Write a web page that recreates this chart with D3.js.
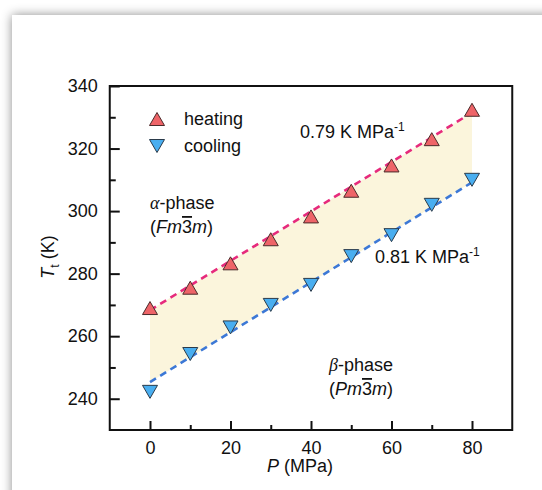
<!DOCTYPE html>
<html>
<head>
<meta charset="utf-8">
<script src="https://cdn.jsdelivr.net/npm/d3@7"></script>
<style>
  body { margin: 0; background: #fff; width: 542px; height: 490px; overflow: hidden; position: relative; }
  #card { position: absolute; left: 12px; top: 15px; width: 560px; height: 500px; background: #fff;
          box-shadow: 0 0 10px rgba(0,0,0,0.45); }
  #chart { position: absolute; left: 0; top: 0; }
  text { font-family: "Liberation Sans", Arial, sans-serif; fill: #111; }
</style>
</head>
<body>
<div id="card"></div>
<div id="chart"></div>
<script>
// chart size and frame
const width = 542;
const height = 490;
const margin = {left: 110, right: 30, top: 86, bottom: 60};

// data
const pressure = [0, 10, 20, 30, 40, 50, 60, 70, 80];
const heatingT = [269, 275.5, 283.3, 291, 298.3, 306.5, 314.6, 323, 332.4];
const coolingT = [242.2, 254.3, 262.8, 270, 276.4, 285.6, 292.3, 302, 310];
// dashed fit lines: [P, T] end points
const heatingFit = [[0, 268.3], [80, 331.5]];
const coolingFit = [[0, 245.3], [80, 309.2]];
const xTicks = [0, 20, 40, 60, 80];
const xMinor = [10, 30, 50, 70];
const yTicks = [240, 260, 280, 300, 320, 340];
const yMinor = [250, 270, 290, 310, 330];

const svg = d3.select("#chart")
  .append("svg")
  .attr("width", width)
  .attr("height", height);

const x = d3.scaleLinear().domain([-10, 90]).range([109.75, 512.25]);
const y = d3.scaleLinear().domain([230, 340]).range([430, 86]);

// shaded band between the two fits
const band = [heatingFit[0], heatingFit[1], coolingFit[1], coolingFit[0]];
svg.append("path")
  .attr("d", d3.line().x(d => x(d[0])).y(d => y(d[1]))(band) + "Z")
  .attr("fill", "#fbf5dc");

// fit lines
const fitLine = d3.line().x(d => x(d[0])).y(d => y(d[1]));
svg.append("path").attr("d", fitLine(heatingFit))
  .attr("stroke", "#e62a7c").attr("stroke-width", 2.6).attr("fill", "none")
  .attr("stroke-dasharray", "7,5");
svg.append("path").attr("d", fitLine(coolingFit))
  .attr("stroke", "#3c78d6").attr("stroke-width", 2.6).attr("fill", "none")
  .attr("stroke-dasharray", "7,5");

// axes (inward ticks)
const gx = svg.append("g").attr("transform", `translate(0,${y(230)})`);
gx.call(d3.axisBottom(x).tickValues(xTicks).tickSize(-9).tickPadding(11));
const gxm = svg.append("g").attr("transform", `translate(0,${y(230)})`);
gxm.call(d3.axisBottom(x).tickValues(xMinor).tickSize(-5).tickFormat(""));
const gy = svg.append("g").attr("transform", `translate(${x(-10)},0)`);
gy.call(d3.axisLeft(y).tickValues(yTicks).tickSize(-10).tickPadding(12));
const gym = svg.append("g").attr("transform", `translate(${x(-10)},0)`);
gym.call(d3.axisLeft(y).tickValues(yMinor).tickSize(-6).tickFormat(""));

svg.selectAll(".domain").remove();
svg.selectAll(".tick line").attr("stroke", "#111").attr("stroke-width", 2);
svg.selectAll(".tick text").attr("font-size", "18px")
  .attr("font-family", "Liberation Sans, Arial, sans-serif").attr("fill", "#111");

// frame
svg.append("rect")
  .attr("x", x(-10)).attr("y", y(340))
  .attr("width", x(90) - x(-10)).attr("height", y(230) - y(340))
  .attr("fill", "none").attr("stroke", "#111").attr("stroke-width", 2);

// markers
function triUp(cx, cy) {
  return `M${cx},${cy - 6.5}L${cx + 7.5},${cy + 6.5}L${cx - 7.5},${cy + 6.5}Z`;
}
function triDown(cx, cy) {
  return `M${cx},${cy + 6.5}L${cx + 7.5},${cy - 6.5}L${cx - 7.5},${cy - 6.5}Z`;
}
svg.selectAll(".heat")
  .data(pressure)
  .enter()
  .append("path")
    .attr("class", "heat")
    .attr("d", (d, i) => triUp(x(d), y(heatingT[i])))
    .attr("fill", "#ee6468").attr("stroke", "#4a2a2a").attr("stroke-width", 1);
svg.selectAll(".cool")
  .data(pressure)
  .enter()
  .append("path")
    .attr("class", "cool")
    .attr("d", (d, i) => triDown(x(d), y(coolingT[i])))
    .attr("fill", "#49aef0").attr("stroke", "#2a3a4a").attr("stroke-width", 1);

// legend
svg.append("path").attr("d", triUp(157, 119))
  .attr("fill", "#ee6468").attr("stroke", "#4a2a2a").attr("stroke-width", 1);
svg.append("path").attr("d", triDown(157, 146))
  .attr("fill", "#49aef0").attr("stroke", "#2a3a4a").attr("stroke-width", 1);
svg.append("text").attr("x", 184).attr("y", 125).attr("font-size", "18px").text("heating");
svg.append("text").attr("x", 184).attr("y", 152).attr("font-size", "18px").text("cooling");

// slope annotations
const s1 = svg.append("text").attr("x", 300).attr("y", 138).attr("font-size", "18px");
s1.append("tspan").text("0.79 K MPa");
s1.append("tspan").attr("dy", -7).attr("font-size", "12px").text("-1");
const s2 = svg.append("text").attr("x", 375).attr("y", 263).attr("font-size", "18px");
s2.append("tspan").text("0.81 K MPa");
s2.append("tspan").attr("dy", -7).attr("font-size", "12px").text("-1");

// phase labels
function phase(px, py, greek, letter) {
  const t1 = svg.append("text").attr("x", px).attr("y", py).attr("font-size", "18px");
  t1.append("tspan").attr("font-family", "Liberation Serif, serif").attr("font-style", "italic").text(greek);
  t1.append("tspan").text("-phase");
  const t2 = svg.append("text").attr("x", px).attr("y", py + 24).attr("font-size", "18px");
  t2.append("tspan").text("(");
  t2.append("tspan").attr("font-style", "italic").text(letter + "m");
  t2.append("tspan").attr("text-decoration", "overline").style("text-decoration", "overline").text("3");
  t2.append("tspan").attr("font-style", "italic").text("m");
  t2.append("tspan").text(")");
}
phase(150, 209, "\u03b1", "F");
phase(329, 371, "\u03b2", "P");

// axis titles
const xt = svg.append("text").attr("x", 300).attr("y", 472)
  .attr("text-anchor", "middle").attr("font-size", "18px");
xt.append("tspan").attr("font-style", "italic").text("P");
xt.append("tspan").text(" (MPa)");

const yt = svg.append("text")
  .attr("transform", "translate(54,257) rotate(-90)")
  .attr("text-anchor", "middle").attr("font-size", "18px");
yt.append("tspan").attr("font-style", "italic").text("T");
yt.append("tspan").attr("dy", 5).attr("font-size", "12px").text("t");
yt.append("tspan").attr("dy", -5).text(" (K)");
</script>
</body>
</html>
